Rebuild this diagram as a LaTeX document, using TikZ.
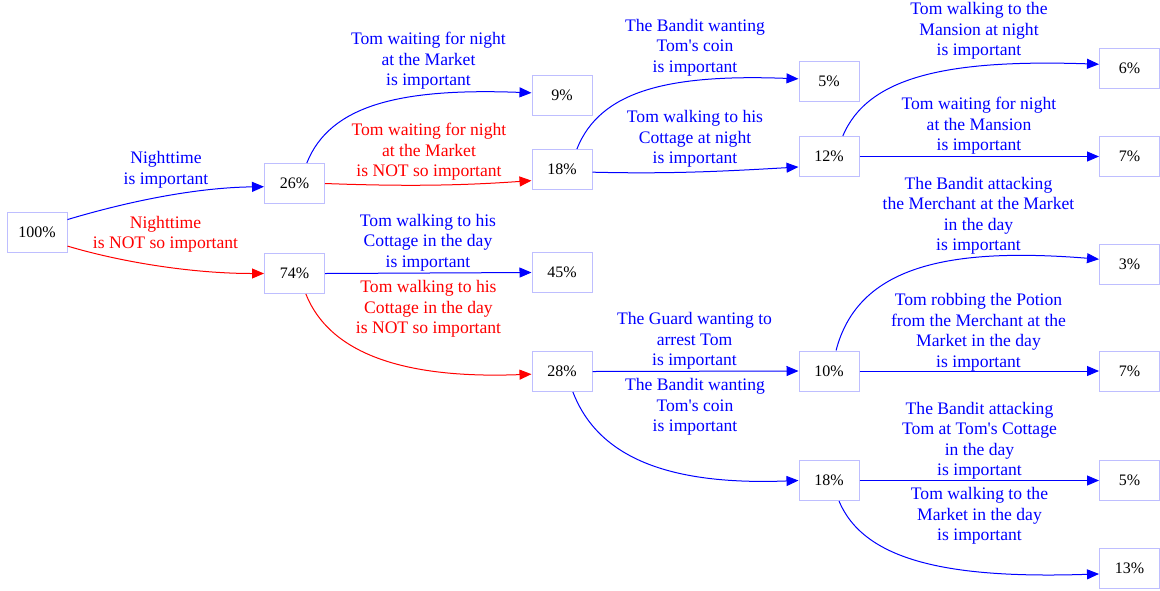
\documentclass[tikz,border=0pt]{standalone}
\usepackage{fontspec}
\setmainfont{Liberation Serif}
\usetikzlibrary{arrows.meta}
\definecolor{boxblue}{RGB}{190,190,255}

\begin{document}
\begin{tikzpicture}[x=0.75pt,y=-0.75pt,
   pct/.style={draw=boxblue,line width=0.75pt,minimum width=45pt,minimum height=30pt,inner sep=0pt,font=\fontsize{12}{14}\selectfont},
   lab/.style={align=center,inner sep=0pt,yshift=-1.2pt,font=\fontsize{13.2}{15.4}\selectfont},
   imp/.style={draw=blue,line width=0.75pt,-{Triangle[length=9pt,width=7.5pt]}},
   notimp/.style={imp,draw=red}]
   \useasboundingbox (0,0) rectangle (1160,590);

   \node[pct] (n100) at (37,232.5) {100\%};
   \node[pct] (n26) at (294.5,183.5) {26\%};
   \node[pct] (n74) at (294.5,273.5) {74\%};
   \node[pct] (n9) at (562,95.5) {9\%};
   \node[pct] (n18a) at (562,169.5) {18\%};
   \node[pct] (n45) at (562,272.5) {45\%};
   \node[pct] (n28) at (562,371.5) {28\%};
   \node[pct] (n5a) at (829,81.5) {5\%};
   \node[pct] (n12) at (829,156.5) {12\%};
   \node[pct] (n10) at (829,371) {10\%};
   \node[pct] (n18b) at (829,480.5) {18\%};
   \node[pct] (n6) at (1129.5,68.5) {6\%};
   \node[pct] (n7a) at (1129.5,156.5) {7\%};
   \node[pct] (n3) at (1129.5,264) {3\%};
   \node[pct] (n7b) at (1129.5,371) {7\%};
   \node[pct] (n5b) at (1129.5,480.5) {5\%};
   \node[pct] (n13) at (1129.5,568) {13\%};

   % first choice
   \draw[imp] (n100.23) .. controls +(50,-15) and +(-75,1) .. (n26.186);
   \draw[notimp] (n100.-24) .. controls +(50,15) and +(-75,0) .. (n74.west);
   \node[lab,text=blue] (lNight) at (166,168) {Nighttime\\is important};
   \node[lab,text=red] (lNightNo) at (165.5,232.5) {Nighttime\\is NOT so important};

   \draw[imp] (n26.59) .. controls +(23,-58) and +(-131,-5) .. (n9.175);
   \draw[notimp] (n26.east) .. controls +(80,3) and +(-70,5) .. (n18a.200);
   \node[lab,text=blue] (lWaitMarket) at (428.5,59.5) {Tom waiting for night\\at the Market\\is important};
   \node[lab,text=red] (lWaitMarketNo) at (429,150.5) {Tom waiting for night\\at the Market\\is NOT so important};

   \draw[imp] (n18a.54) .. controls +(23,-58) and +(-131,-5) .. (n5a.175);
   \draw[imp] (n18a.-5) .. controls +(80,2) and +(-70,4) .. (n12.199);
   \node[lab,text=blue] (lCoinA) at (695,46) {The Bandit wanting\\Tom\textquotesingle s coin\\is important};
   \node[lab,text=blue] (lCottageNight) at (695,137.5) {Tom walking to his\\Cottage at night\\is important};

   \draw[imp] (n12.56) .. controls +(25,-60) and +(-150,-5) .. (n6.172);
   \draw[imp] (n12.east) -- (n7a.west);
   \node[lab,text=blue] (lMansion) at (979,29.5) {Tom walking to the\\Mansion at night\\is important};
   \node[lab,text=blue] (lWaitMansion) at (979,124.5) {Tom waiting for night\\at the Mansion\\is important};

   % day branch
   \draw[imp] (n74.east) -- (n45.west);
   \draw[notimp] (n74.-61) .. controls +(23,58) and +(-131,5) .. (n28.185);
   \node[lab,text=blue] (lCottageDay) at (428,241) {Tom walking to his\\Cottage in the day\\is important};
   \node[lab,text=red] (lCottageDayNo) at (428.5,307.5) {Tom walking to his\\Cottage in the day\\is NOT so important};

   \draw[imp] (n28.east) -- (n10.west);
   \draw[imp] (n28.-62) .. controls +(25,65) and +(-131,5) .. (n18b.west);
   \node[lab,text=blue] (lGuard) at (694.5,339.5) {The Guard wanting to\\arrest Tom\\is important};
   \node[lab,text=blue] (lCoinB) at (695,405.5) {The Bandit wanting\\Tom\textquotesingle s coin\\is important};

   \draw[imp] (n10.71) .. controls +(22,-85) and +(-150,-12) .. (n3.171);
   \draw[imp] (n10.east) -- (n7b.west);
   \node[lab,text=blue] (lAttackMerchant) at (978.5,214) {The Bandit attacking\\the Merchant at the Market\\in the day\\is important};
   \node[lab,text=blue] (lPotion) at (978.5,330.5) {Tom robbing the Potion\\from the Merchant at the\\Market in the day\\is important};

   \draw[imp] (n18b.east) -- (n5b.west);
   \draw[imp] (n18b.-64) .. controls +(25,60) and +(-150,5) .. (n13.191);
   \node[lab,text=blue] (lAttackTom) at (979.5,439) {The Bandit attacking\\Tom at Tom\textquotesingle s Cottage\\in the day\\is important};
   \node[lab,text=blue] (lMarketDay) at (979.5,514.5) {Tom walking to the\\Market in the day\\is important};
\end{tikzpicture}
\end{document}
